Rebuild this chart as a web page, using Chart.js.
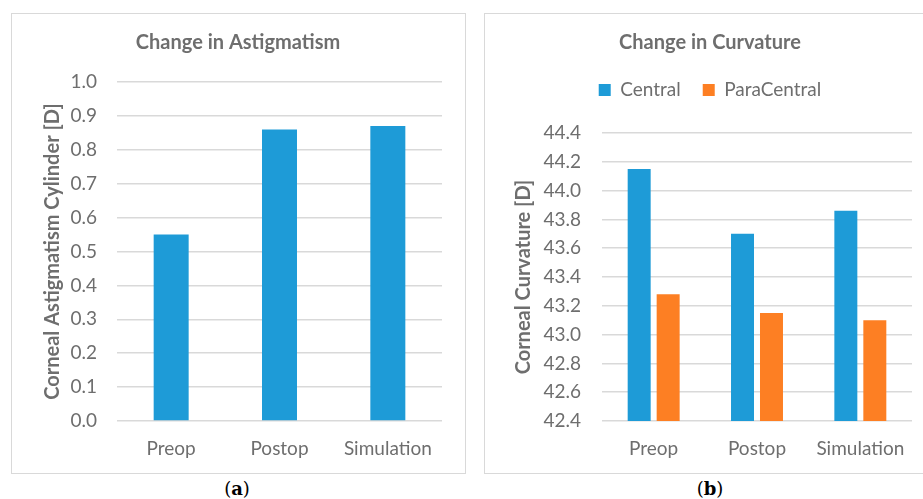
<!DOCTYPE html>
<html>
<head>
<meta charset="utf-8">
<script src="https://cdn.jsdelivr.net/npm/chart.js@4/dist/chart.umd.min.js"></script>
<style>
  html, body { margin: 0; padding: 0; background: #fff; width: 923px; height: 499px; overflow: hidden; }
  .panel { position: absolute; border: 1px solid #d9d9d9; background: #fff; }
  .panel canvas { display: block; }
  .cap { position: absolute; font-family: "DejaVu Serif", "Liberation Serif", serif; font-size: 18px; color: #000; transform: translateX(-50%); }
  .cap b { font-weight: bold; }
</style>
</head>
<body>
<div class="panel" style="left:11px; top:13px; width:453px; height:459px;"><canvas id="chartA" width="453" height="459"></canvas></div>
<div class="panel" style="left:484px; top:13px; width:450px; height:459px;"><canvas id="chartB" width="450" height="459"></canvas></div>
<div class="cap" style="left:237px; top:478px;">(<b>a</b>)</div>
<div class="cap" style="left:710px; top:478px;">(<b>b</b>)</div>
<script>
// Measurement stages
const stages = ['Preop', 'Postop', 'Simulation'];

// (a) corneal astigmatism cylinder, dioptres
const astigmatism = [0.55, 0.86, 0.87];

// (b) corneal curvature, dioptres
const central = [44.15, 43.70, 43.86];
const paraCentral = [43.28, 43.15, 43.10];

// Axis ranges and tick steps
const astigRange = { min: 0.0, max: 1.0, step: 0.1 };
const curvRange = { min: 42.4, max: 44.4, step: 0.2 };

const BLUE = '#1e9bd7';
const ORANGE = '#fd7f23';
const TEXT = '#6e6e6e';
const GRID = '#d9d9d9';
const FONT = 'Lato, "Open Sans", sans-serif';

Chart.defaults.font.family = FONT;
Chart.defaults.color = TEXT;
Chart.defaults.animation = false;

function yScale(range, opts) {
  return {
    min: range.min,
    max: range.max,
    afterFit: s => { s.width = opts.axisWidth; },
    border: { display: false },
    grid: { color: GRID, lineWidth: 1.5, drawTicks: false },
    ticks: {
      stepSize: range.step,
      padding: opts.tickPad,
      color: TEXT,
      font: { size: 19 },
      callback: v => Number(v).toFixed(1)
    },
    title: {
      display: true,
      text: opts.text,
      color: TEXT,
      font: { size: 20, weight: 'bold' },
      padding: { top: opts.titlePad, bottom: 0 }
    }
  };
}

const xScale = {
  afterFit: s => { s.height = 52; },
  border: { display: false },
  grid: { display: false, drawTicks: false },
  ticks: { color: TEXT, font: { size: 19 }, padding: 16 }
};

function chartTitle(text, bottom) {
  return {
    display: true,
    text: text,
    color: TEXT,
    font: { size: 20, weight: 'bold' },
    padding: { top: 17, bottom: bottom }
  };
}

new Chart(document.getElementById('chartA'), {
  type: 'bar',
  data: {
    labels: stages,
    datasets: [{
      label: 'Astigmatism',
      data: astigmatism,
      backgroundColor: BLUE,
      categoryPercentage: 1.0,
      barPercentage: 0.323
    }]
  },
  options: {
    responsive: false,
    layout: { padding: { left: 22, right: 23, top: 0, bottom: 0 } },
    plugins: {
      legend: { display: false },
      tooltip: { enabled: false },
      title: chartTitle('Change in Astigmatism', 27)
    },
    scales: {
      x: xScale,
      y: yScale(astigRange, { text: 'Corneal Astigmatism Cylinder [D]', axisWidth: 83, tickPad: 20, titlePad: 7 })
    }
  }
});

new Chart(document.getElementById('chartB'), {
  type: 'bar',
  data: {
    labels: stages,
    datasets: [
      { label: 'Central', data: central, backgroundColor: BLUE, categoryPercentage: 0.561, barPercentage: 0.793 },
      { label: 'ParaCentral', data: paraCentral, backgroundColor: ORANGE, categoryPercentage: 0.561, barPercentage: 0.793 }
    ]
  },
  options: {
    responsive: false,
    layout: { padding: { left: 23, right: 23, top: 0, bottom: 0 } },
    plugins: {
      tooltip: { enabled: false },
      title: chartTitle('Change in Curvature', 3.5),
      legend: {
        display: true,
        position: 'top',
        labels: { boxWidth: 12, boxHeight: 12, padding: 22, color: TEXT, font: { size: 19 } }
      },
      // spacer between the legend row and the plot area
      subtitle: {
        display: true,
        text: ' ',
        weight: 500,
        font: { size: 10, lineHeight: 1 },
        padding: { top: 0, bottom: 13.5 }
      }
    },
    scales: {
      x: xScale,
      y: yScale(curvRange, { text: 'Corneal Curvature [D]', axisWidth: 94, tickPad: 21, titlePad: 4 })
    }
  }
});
</script>
</body>
</html>
